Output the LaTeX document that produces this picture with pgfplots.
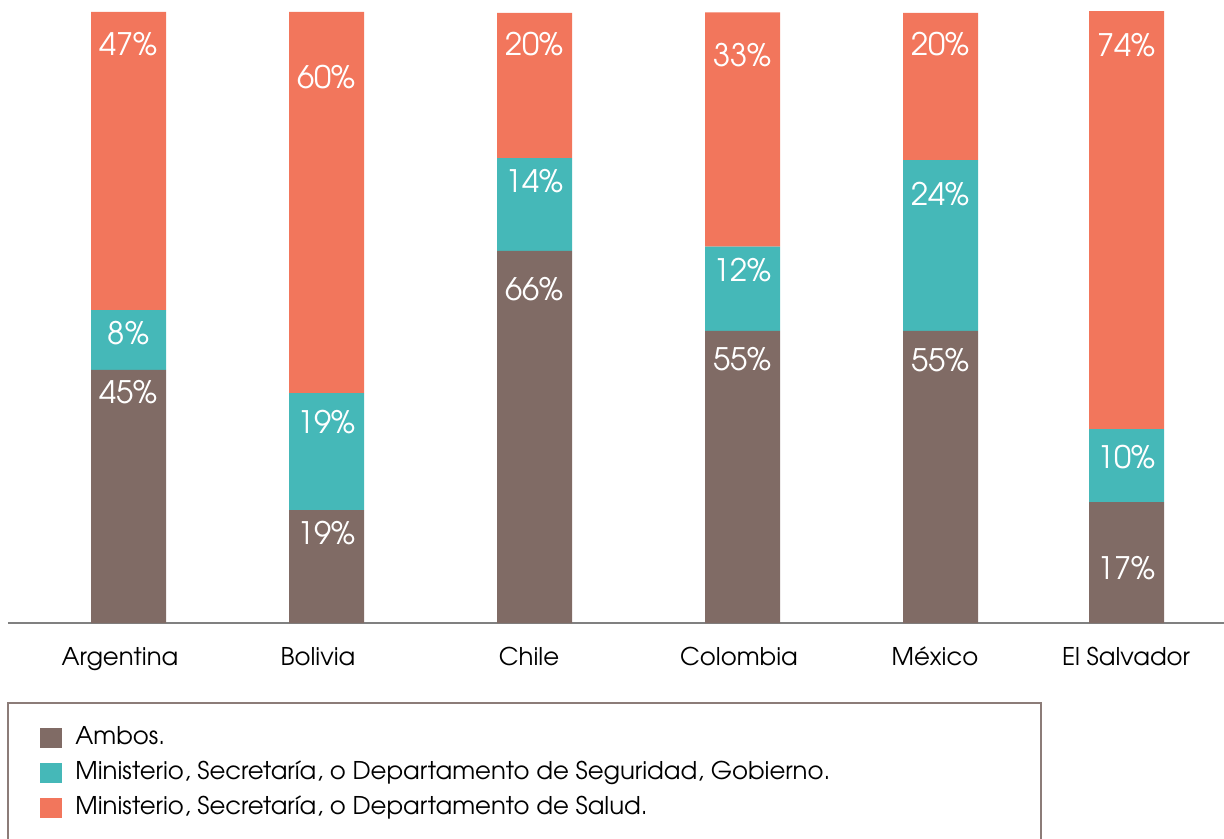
\documentclass[border=0pt]{standalone}
\usepackage{pgfplots}
\pgfplotsset{compat=1.18}
\usepackage{pgfplotstable}
\usepackage{fontspec}
\setmainfont{TeX Gyre Adventor}
\definecolor{cAmbos}{HTML}{806B65}
\definecolor{cSeg}{HTML}{45B8B8}
\definecolor{cSal}{HTML}{F2765C}
\definecolor{cAxis}{HTML}{808080}
\definecolor{cBorder}{HTML}{8C7C78}

% x = bar centre (px), y = segment height (share of bar), lab = printed label, off = label offset from segment top (px)
\pgfplotstableread{
x y lab off
128.5 41.5 45 10
326.5 18.5 19 10
534.5 61.0 66 26
742.5 47.9 55 16
940.5 47.9 55 17
1126.5 19.8 17 53
}\ambos
\pgfplotstableread{
x y lab off
128.5 9.8 8 10.5
326.5 19.2 19 17
534.5 15.2 14 10
742.5 13.8 12 11
940.5 28.0 24 22
1126.5 12.0 10 16
}\seguridad
\pgfplotstableread{
x y lab off
128.5 48.9 47 19.5
326.5 62.5 60 53
534.5 23.8 20 19
742.5 38.4 33 30
940.5 24.1 20 19
1126.5 68.5 74 21
}\salud

\begin{document}
\begin{tikzpicture}
\useasboundingbox (0,0) rectangle (612pt,-419.5pt);
\draw[cBorder, line width=0.75pt] (4pt,-351.5pt) rectangle (520.5pt,-440pt);
\begin{axis}[
  at={(4pt,-311.5pt)}, anchor=south west,
  scale only axis, width=608pt, height=311.5pt,
  xmin=8, xmax=1224, ymin=0, ymax=102.13,
  clip=false,
  ybar stacked, bar width=75,
  axis x line=bottom, axis y line=none,
  x axis line style={-, cAxis, line width=1pt},
  xtick={120,318,529,739,935,1126},
  xticklabels={Argentina,Bolivia,Chile,Colombia,México,El Salvador},
  major tick length=0pt,
  xticklabel style={font=\fontsize{12.2}{14}\selectfont, text=black, anchor=base, yshift=-21pt},
  point meta=explicit symbolic,
  visualization depends on={\thisrow{off} \as \off},
  visualization depends on={\thisrow{y} \as \hy},
  nodes near coords={\pgfplotspointmeta\%},
  nodes near coords align={center},
  every node near coord/.append style={text=white, font=\fontsize{15.5}{18}\selectfont, anchor=center, yshift={-0.5pt*(\off+12.5-3.05*\hy)}},
  legend style={at={(axis description cs:0,0)}, anchor=north west, xshift=16pt, yshift=-52pt,
    draw=none, fill=none, inner sep=0pt, row sep=6.5pt, column sep=6.5pt,
    font=\fontsize{12.2}{14}\selectfont,
    nodes={inner sep=0pt, text height=8.5pt, text depth=2.5pt}},
  legend cell align=left,
  legend image code/.code={\fill[#1] (0pt,-5pt) rectangle (11pt,5pt);},
]
\addplot[fill=cAmbos, draw=none] table[x=x,y=y,meta=lab]{\ambos};
\addlegendentry{Ambos.}
\addplot[fill=cSeg, draw=none] table[x=x,y=y,meta=lab]{\seguridad};
\addlegendentry{Ministerio, Secretaría, o Departamento de Seguridad, Gobierno.}
\addplot[fill=cSal, draw=none] table[x=x,y=y,meta=lab]{\salud};
\addlegendentry{Ministerio, Secretaría, o Departamento de Salud.}
\end{axis}
\end{tikzpicture}
\end{document}
